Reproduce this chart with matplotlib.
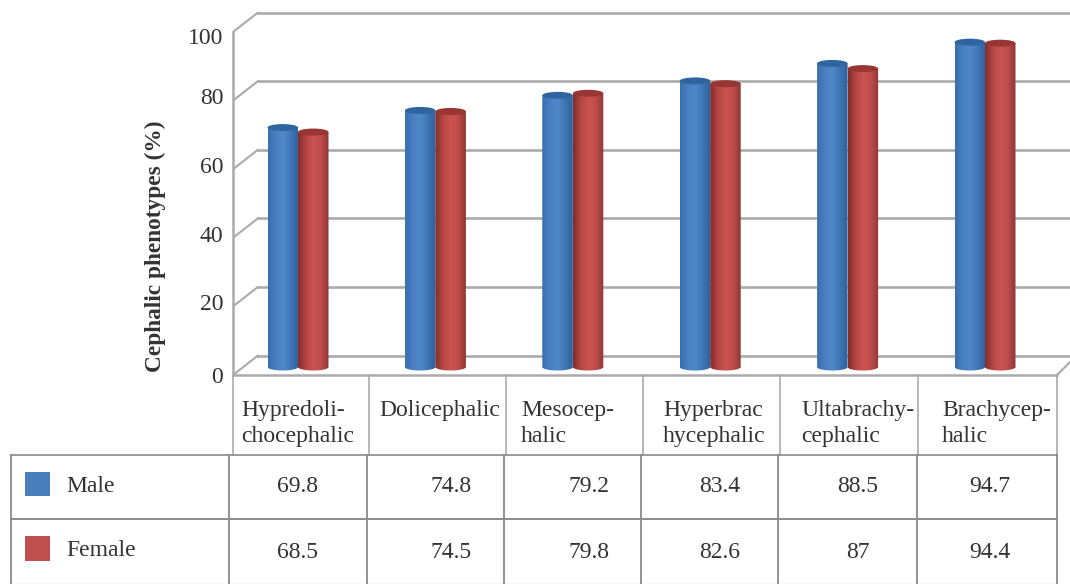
"""Cephalic phenotypes by sex, as a fake-3D cylinder column chart with data table."""

import matplotlib

matplotlib.use("Agg")
import matplotlib.pyplot as plt
import numpy as np
from matplotlib.colors import LinearSegmentedColormap
from matplotlib.patches import Ellipse, Polygon, Rectangle
from matplotlib.transforms import ScaledTranslation

categories = [
    "Hypredoli-\nchocephalic",
    "Dolicephalic",
    "Mesocep-\nhalic",
    "Hyperbrac\nhycephalic",
    "Ultabrachy-\ncephalic",
    "Brachycep-\nhalic",
]
male = [69.8, 74.8, 79.2, 83.4, 88.5, 94.7]
female = [68.5, 74.5, 79.8, 82.6, 87, 94.4]
male_labels = ["69.8", "74.8", "79.2", "83.4", "88.5", "94.7"]
female_labels = ["68.5", "74.5", "79.8", "82.6", "87", "94.4"]
yticks = [0, 20, 40, 60, 80, 100]

W, H = 1070, 584
GRID = "#ababab"
TABLE = "#8a8a8a"
INK = "#333333"
SERIF = "Liberation Serif"
FONT = 17

# pixel layout of the plot region
LEFT, RIGHT, Y0, Y100 = 233, 1057, 375, 32
CELL = (RIGHT - LEFT) / 6
PX_Y = (Y0 - Y100) / 100
BAR_W = 30.5 / CELL
BASE = 8 / PX_Y
CAP_H = 7 / PX_Y

blue = LinearSegmentedColormap.from_list("b", ["#3a6fae", "#4a80c2", "#4f88c8", "#3f75b4", "#2e619c"])
red = LinearSegmentedColormap.from_list("r", ["#7d2f2d", "#b54644", "#cb5351", "#bf4c4a", "#8f3836"])


def draw_cylinder(ax, x0, value, cmap, cap_color, z):
    top = BASE + value
    xs = np.linspace(0, np.pi, 30)
    cx = x0 + BAR_W / 2
    outline = [(x0, top), (x0 + BAR_W, top)]
    outline += list(zip(cx + BAR_W / 2 * np.cos(xs), BASE - CAP_H / 2 * np.sin(xs)))
    clip = Polygon(outline, closed=True, transform=ax.transData)
    im = ax.imshow(
        np.linspace(0, 1, 64).reshape(1, -1),
        cmap=cmap,
        extent=(x0, x0 + BAR_W, BASE - CAP_H, top),
        aspect="auto",
        zorder=z,
    )
    im.set_clip_path(clip)
    ax.add_patch(Ellipse((cx, top), BAR_W, CAP_H, facecolor=cap_color, edgecolor="none", zorder=z + 0.1))


def main() -> None:
    fig = plt.figure(figsize=(W / 100, H / 100), dpi=100)

    # overlay in pixel coordinates for the data table
    table = fig.add_axes([0, 0, 1, 1])
    table.set_xlim(0, W)
    table.set_ylim(H, 0)
    table.axis("off")

    ax = fig.add_axes([LEFT / W, (H - Y0) / H, (W - LEFT) / W, Y0 / H])
    ax.patch.set_alpha(0)
    xlim = (0, (W - LEFT) / CELL)
    ylim = (0, Y0 / PX_Y)

    # back wall, slanted tick stubs and floor
    for tick in yticks:
        back = tick + 19.5 / PX_Y
        ax.plot([0, 25 / CELL], [tick, back], color=GRID, lw=1.5, zorder=1, solid_capstyle="round")
        ax.plot([25 / CELL, xlim[1]], [back, back], color=GRID, lw=1.9, zorder=1)
    ax.plot([6, xlim[1]], [0, 13 / PX_Y], color=GRID, lw=1.5, zorder=1)
    ax.plot([0, 6], [0, 0], color=GRID, lw=1.8, zorder=2, clip_on=False)

    for i in range(6):
        center = (298 - LEFT) / CELL + i * (137.4 / CELL)
        draw_cylinder(ax, center - BAR_W, male[i], blue, "#2f659f", 3)
        draw_cylinder(ax, center, female[i], red, "#983633", 4)

    ax.set_xlim(*xlim)
    ax.set_ylim(*ylim)
    for side in ("top", "right", "bottom"):
        ax.spines[side].set_visible(False)
    ax.spines["left"].set_bounds(0, 100)
    ax.spines["left"].set_color(GRID)
    ax.spines["left"].set_linewidth(1.8)
    ax.set_xticks([])
    ax.set_yticks(yticks)
    ax.tick_params(axis="y", length=0, pad=7, labelsize=FONT, labelcolor=INK)
    # the tick numbers do not sit quite level with their ticks in the original
    label_lift = [0, 4, 4, 4, 5, -4]
    for label, lift in zip(ax.get_yticklabels(), label_lift):
        label.set_fontfamily(SERIF)
        label.set_transform(label.get_transform() + ScaledTranslation(0, lift / 100, fig.dpi_scale_trans))

    table.text(155, 246, "Cephalic phenotypes (%)", rotation=90, ha="center", va="center",
               fontsize=16.8, fontweight="bold", family=SERIF, color=INK)

    # category header cells
    header_x = [233, 369, 506, 643, 780, 918, 1057]
    for x in header_x:
        table.plot([x, x], [375, 455], color=GRID, lw=1.2)
    label_x = [241, 379, 521, 663, 801, 942]
    for x, text in zip(label_x, categories):
        table.text(x, 400, text, ha="left", va="top", fontsize=FONT, family=SERIF, color=INK, linespacing=1.32)

    # data table rows
    table.plot([11, 1057], [455, 455], color=TABLE, lw=1.2)
    table.plot([11, 1057], [519, 519], color=TABLE, lw=1.4)
    table.plot([11, 1057], [583.5, 583.5], color="#d8d8d8", lw=1)
    for x in [11, 229, 367, 504, 641, 778, 917, 1057]:
        table.plot([x, x], [455, 584], color=TABLE, lw=1.3)

    table.add_patch(Rectangle((25, 472), 25, 24, facecolor="#4a7ebb", edgecolor="none"))
    table.add_patch(Rectangle((25, 536), 25, 25, facecolor="#c0504d", edgecolor="none"))
    table.text(66, 487, "Male", va="center", fontsize=FONT, family=SERIF, color=INK)
    table.text(66, 551, "Female", va="center", fontsize=FONT, family=SERIF, color=INK)

    value_x = [297, 451, 589, 720, 858, 990]
    for x, text in zip(value_x, male_labels):
        table.text(x, 487, text, ha="center", va="center", fontsize=FONT, family=SERIF, color=INK)
    for x, text in zip(value_x, female_labels):
        table.text(x, 553, text, ha="center", va="center", fontsize=FONT, family=SERIF, color=INK)

    fig.savefig("out.png", dpi=100)
    plt.close(fig)


if __name__ == "__main__":
    main()
